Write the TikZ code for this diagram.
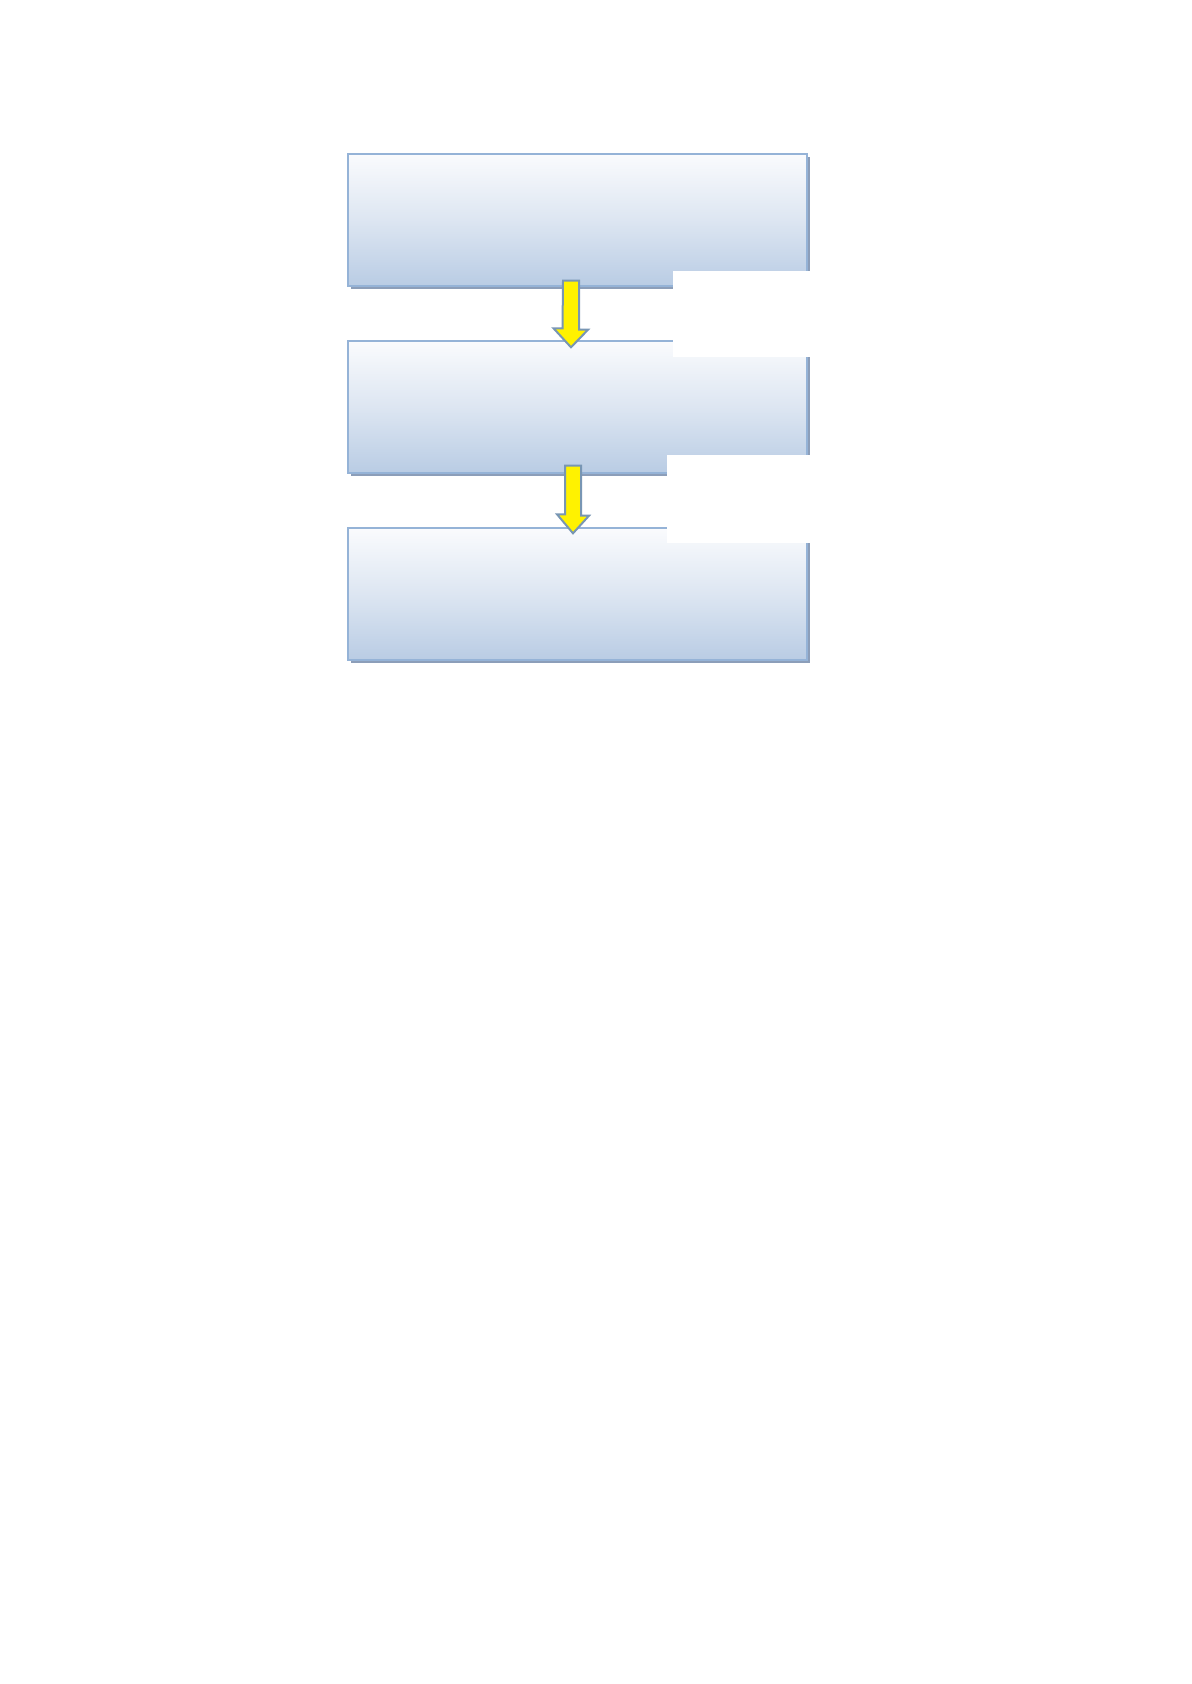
\documentclass[tikz,border=0pt]{standalone}
\usetikzlibrary{calc,shadows}
\definecolor{boxtop}{RGB}{250,251,253}
\definecolor{boxbot}{RGB}{185,204,228}
\definecolor{boxline}{RGB}{149,179,215}
\definecolor{boxshadow}{RGB}{140,158,185}
\definecolor{arrline}{RGB}{120,150,180}
\tikzset{
  stepbox/.style={rectangle, draw=boxline, line width=0.7pt,
    top color=boxtop, bottom color=boxbot, middle color=boxtop!55!boxbot,
    minimum width=229.5pt, minimum height=66pt, inner sep=0pt,
    drop shadow={shadow xshift=1.5pt, shadow yshift=-1.5pt, fill=boxshadow, opacity=1}},
  patch/.style={fill=white, draw=none},
  blockarrow/.style={fill=yellow, draw=arrline, line width=1pt, line join=miter}
}
\begin{document}
\begin{tikzpicture}[x=0.5pt,y=-0.5pt]
\useasboundingbox (0,0) rectangle (1191,1684);
\fill[white] (0,0) rectangle (1191,1684);
\node[stepbox] (b1) at (577.5,220) {};
\node[stepbox] (b2) at (577.5,407) {};
\node[stepbox] (b3) at (577.5,594) {};
% white patches
\fill[patch] (673,271) rectangle (815,357);
\fill[patch] (667,455) rectangle (815,543);
% block arrows
\draw[blockarrow] ($(b1.south)+(-14.5,-6)$) -- ++(16,0) -- ++(0,49) -- ++(9,0)
  -- ($(b2.north)+(-6.5,7)$) -- ++(-17.5,-19) -- ++(9,0) -- cycle;
\draw[blockarrow] ($(b2.south)+(-12.5,-8)$) -- ++(16,0) -- ++(0,50) -- ++(8,0)
  -- ($(b3.north)+(-4.5,6)$) -- ++(-16,-19) -- ++(8,0) -- cycle;
\end{tikzpicture}
\end{document}
